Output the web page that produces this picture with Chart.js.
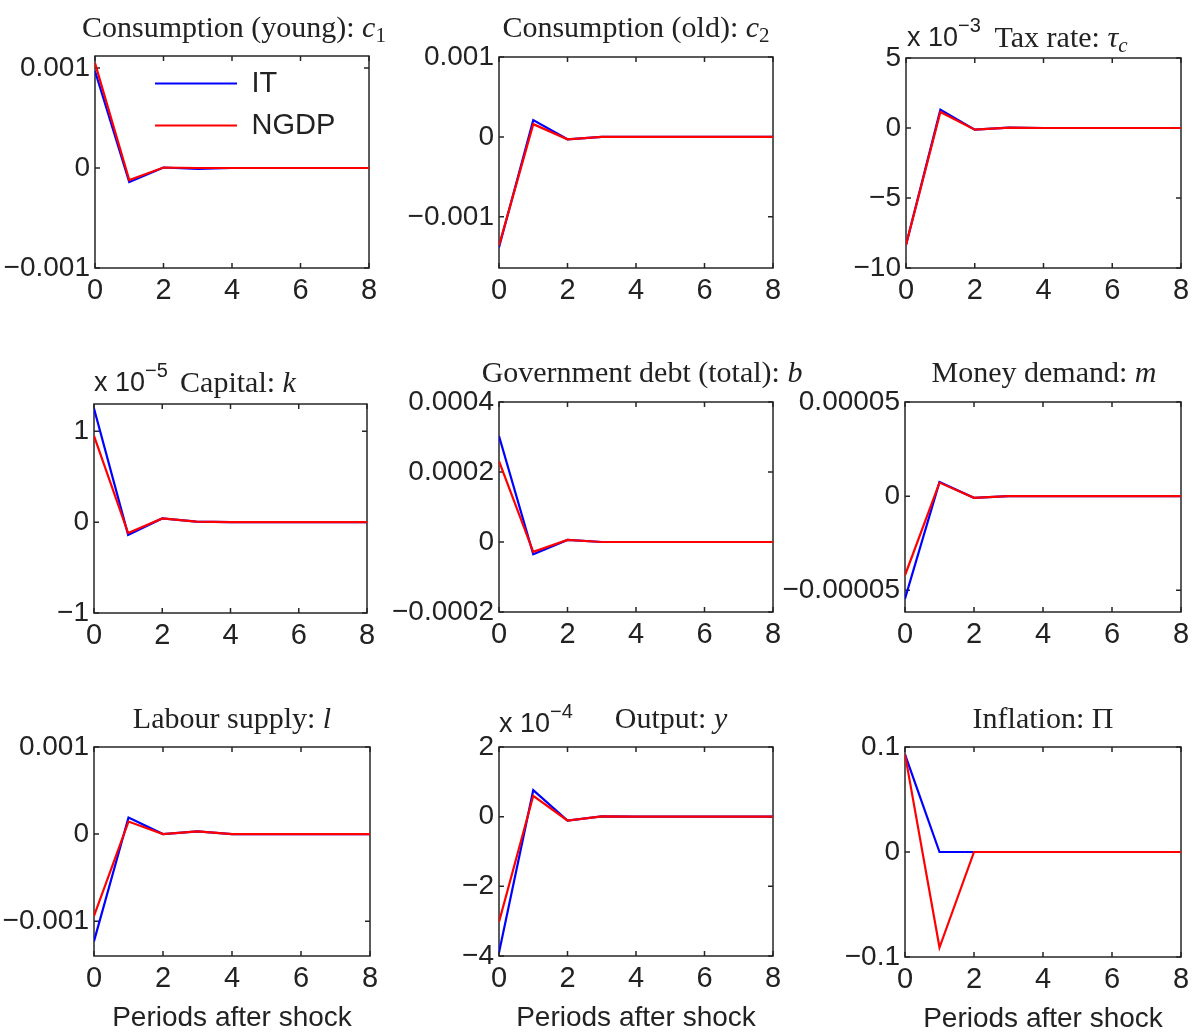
<!DOCTYPE html>
<html>
<head>
<meta charset="utf-8">
<script src="https://cdn.jsdelivr.net/npm/chart.js@4.4.1/dist/chart.umd.min.js"></script>
<style>
  body { margin: 0; background: #fff; width: 1196px; height: 1033px; position: relative; overflow: hidden; }
  canvas { position: absolute; }
  .ttl { position: absolute; z-index: 2; white-space: nowrap; transform: translateX(-50%);
         font: 30px/30px "Liberation Serif", "Times New Roman", serif; color: #222; }
  .ttl .sb { font-size: 21px; line-height: 0; position: relative; top: 5px; }
  .exp { position: absolute; z-index: 2; white-space: nowrap;
         font: 27px/27px "Liberation Sans", Arial, sans-serif; color: #222; }
  .exp .sp { font-size: 20px; line-height: 0; position: relative; top: -14px; }
</style>
</head>
<body>
<script>
// impulse responses, periods after shock
var periods = [0, 1, 2, 3, 4, 5, 6, 7, 8];
var xTicks = [0, 2, 4, 6, 8];
var xLabels = ['0', '2', '4', '6', '8'];
var seriesNames = ['IT', 'NGDP'];

// Consumption (young): c1
var c1IT   = [0.00097, -0.00014, 0.000005, -0.00001, 0, 0, 0, 0, 0];
var c1NGDP = [0.00105, -0.00012, 0.000005, 0, 0, 0, 0, 0, 0];
var c1Range = [-0.001, 0.00112];
var c1Ticks = [-0.001, 0, 0.001];
var c1Labels = ['\u22120.001', '0', '0.001'];

// Consumption (old): c2
var c2IT   = [-0.00138, 0.00021, -0.00003, 0, 0, 0, 0, 0, 0];
var c2NGDP = [-0.00136, 0.00016, -0.00003, 0, 0, 0, 0, 0, 0];
var c2Range = [-0.00164, 0.001];
var c2Ticks = [-0.001, 0, 0.001];
var c2Labels = ['\u22120.001', '0', '0.001'];

// Tax rate: tau_c  (x 10^-3)
var tauIT   = [-8.35, 1.3, -0.12, 0.02, 0, 0, 0, 0, 0];
var tauNGDP = [-8.35, 1.15, -0.12, 0.02, 0, 0, 0, 0, 0];
var tauRange = [-10, 5];
var tauTicks = [-10, -5, 0, 5];
var tauLabels = ['\u221210', '\u22125', '0', '5'];

// Capital: k  (x 10^-5)
var kIT   = [1.25, -0.14, 0.04, 0.005, 0, 0, 0, 0, 0];
var kNGDP = [0.95, -0.12, 0.04, 0.005, 0, 0, 0, 0, 0];
var kRange = [-1, 1.3];
var kTicks = [-1, 0, 1];
var kLabels = ['\u22121', '0', '1'];

// Government debt (total): b
var bIT   = [0.000303, -0.000035, 0.000006, 0, 0, 0, 0, 0, 0];
var bNGDP = [0.000231, -0.000028, 0.000006, 0, 0, 0, 0, 0, 0];
var bRange = [-0.0002, 0.0004];
var bTicks = [-0.0002, 0, 0.0002, 0.0004];
var bLabels = ['\u22120.0002', '0', '0.0002', '0.0004'];

// Money demand: m
var mIT   = [-0.0000544, 0.0000075, -0.0000009, 0, 0, 0, 0, 0, 0];
var mNGDP = [-0.000042, 0.0000072, -0.0000009, 0, 0, 0, 0, 0, 0];
var mRange = [-0.0000615, 0.00005];
var mTicks = [-0.00005, 0, 0.00005];
var mLabels = ['\u22120.00005', '0', '0.00005'];

// Labour supply: l
var lIT   = [-0.00123, 0.00019, 0, 0.00003, 0, 0, 0, 0, 0];
var lNGDP = [-0.00094, 0.000144, 0, 0.00003, 0, 0, 0, 0, 0];
var lRange = [-0.0014, 0.001];
var lTicks = [-0.001, 0, 0.001];
var lLabels = ['\u22120.001', '0', '0.001'];

// Output: y  (x 10^-4)
var yIT   = [-3.9, 0.76, -0.11, 0.01, 0, 0, 0, 0, 0];
var yNGDP = [-3.02, 0.6, -0.11, 0.01, 0, 0, 0, 0, 0];
var yRange = [-4, 2];
var yTicks = [-4, -2, 0, 2];
var yLabels = ['\u22124', '\u22122', '0', '2'];

// Inflation: Pi
var piIT   = [0.093, 0, 0, 0, 0, 0, 0, 0, 0];
var piNGDP = [0.093, -0.091, 0, 0, 0, 0, 0, 0, 0];
var piRange = [-0.1, 0.1];
var piTicks = [-0.1, 0, 0.1];
var piLabels = ['\u22120.1', '0', '0.1'];

var FONT = "'Liberation Sans', Arial, sans-serif";
Chart.defaults.font.family = FONT;
Chart.defaults.color = '#222';

// plot box = [left, top, right, bottom] in page pixels
var panels = [
  { it: c1IT, ng: c1NGDP, range: c1Range, ticks: c1Ticks, labels: c1Labels, box: [95, 56, 369, 268], legend: true,
    title: 'Consumption (young): <i>c</i><span class="sb">1</span>', tx: 234, tb: 37 },
  { it: c2IT, ng: c2NGDP, range: c2Range, ticks: c2Ticks, labels: c2Labels, box: [499, 57, 773, 268],
    title: 'Consumption (old): <i>c</i><span class="sb">2</span>', tx: 636, tb: 37 },
  { it: tauIT, ng: tauNGDP, range: tauRange, ticks: tauTicks, labels: tauLabels, box: [906, 58, 1181, 268],
    title: 'Tax rate: <i>\u03c4</i><span class="sb"><i>c</i></span>', tx: 1061, tb: 47, exp: '\u22123', ex: 907, eb: 47 },
  { it: kIT, ng: kNGDP, range: kRange, ticks: kTicks, labels: kLabels, box: [94, 404, 367, 613],
    title: 'Capital: <i>k</i>', tx: 238, tb: 392, exp: '\u22125', ex: 94, eb: 392 },
  { it: bIT, ng: bNGDP, range: bRange, ticks: bTicks, labels: bLabels, box: [499, 402, 773, 612],
    title: 'Government debt (total): <i>b</i>', tx: 642, tb: 382 },
  { it: mIT, ng: mNGDP, range: mRange, ticks: mTicks, labels: mLabels, box: [905, 402, 1181, 612],
    title: 'Money demand: <i>m</i>', tx: 1044, tb: 382 },
  { it: lIT, ng: lNGDP, range: lRange, ticks: lTicks, labels: lLabels, box: [94, 747, 370, 956], xTitle: true,
    title: 'Labour supply: <i>l</i>', tx: 232, tb: 728 },
  { it: yIT, ng: yNGDP, range: yRange, ticks: yTicks, labels: yLabels, box: [499, 747, 773, 956], xTitle: true,
    title: 'Output: <i>y</i>', tx: 671, tb: 728, exp: '\u22124', ex: 499, eb: 733 },
  { it: piIT, ng: piNGDP, range: piRange, ticks: piTicks, labels: piLabels, box: [905, 747, 1181, 957], xTitle: true,
    title: 'Inflation: \u03a0', tx: 1043, tb: 728 }
];

// MATLAB style frame with inward ticks
var framePlugin = {
  id: 'frame',
  beforeDatasetsDraw: function (chart) {
    var a = chart.chartArea, ctx = chart.ctx, len = 5;
    var sx = chart.scales.x, sy = chart.scales.y;
    ctx.save();
    ctx.strokeStyle = '#262626';
    ctx.lineWidth = 1.5;
    ctx.strokeRect(a.left, a.top, a.right - a.left, a.bottom - a.top);
    ctx.beginPath();
    sx.ticks.forEach(function (t) {
      var px = sx.getPixelForValue(t.value);
      ctx.moveTo(px, a.bottom); ctx.lineTo(px, a.bottom - len);
      ctx.moveTo(px, a.top); ctx.lineTo(px, a.top + len);
    });
    sy.ticks.forEach(function (t) {
      var py = sy.getPixelForValue(t.value);
      ctx.moveTo(a.left, py); ctx.lineTo(a.left + len, py);
      ctx.moveTo(a.right, py); ctx.lineTo(a.right - len, py);
    });
    ctx.stroke();
    ctx.restore();
  }
};

// put the legend inside the axes, offset from the top-left corner
var legendShift = {
  id: 'legendShift',
  afterLayout: function (chart) {
    var lg = chart.legend, a = chart.chartArea;
    if (lg && chart.options.plugins.legend.display) {
      var h = lg.bottom - lg.top, w = lg.right - lg.left;
      lg.left = a.left + 47;
      lg.top = a.top;
      lg.right = lg.left + w;
      lg.bottom = lg.top + h;
    }
  }
};

function points(vals) {
  return vals.map(function (v, i) { return { x: periods[i], y: v }; });
}

panels.forEach(function (p) {
  var axisW = 130, padTop = 30, padRight = 22;
  var xH = p.xTitle ? 76 : 44;
  var plotW = p.box[2] - p.box[0], plotH = p.box[3] - p.box[1];
  var cv = document.createElement('canvas');
  cv.width = axisW + plotW + padRight;
  cv.height = padTop + plotH + xH;
  cv.style.left = (p.box[0] - axisW) + 'px';
  cv.style.top = (p.box[1] - padTop) + 'px';
  document.body.appendChild(cv);

  new Chart(cv.getContext('2d'), {
    type: 'line',
    data: {
      datasets: [{
        label: seriesNames[0],
        data: points(p.it),
        borderColor: '#0000ff',
        borderWidth: 2.2,
        pointRadius: 0,
        order: 1
      }, {
        label: seriesNames[1],
        data: points(p.ng),
        borderColor: '#ff0000',
        borderWidth: 2.2,
        pointRadius: 0,
        order: 0
      }]
    },
    options: {
      responsive: false,
      animation: false,
      layout: { padding: { top: padTop, right: padRight, left: 0, bottom: 0 } },
      scales: {
        x: {
          type: 'linear',
          min: 0,
          max: 8,
          grid: { display: false, drawTicks: false },
          border: { display: false },
          afterBuildTicks: function (s) { s.ticks = xTicks.map(function (v) { return { value: v }; }); },
          afterFit: function (s) { s.height = xH; },
          ticks: {
            autoSkip: false,
            maxRotation: 0,
            padding: 8,
            font: { size: 29, lineHeight: 1 },
            callback: function (v, i) { return xLabels[i]; }
          },
          title: {
            display: !!p.xTitle,
            text: 'Periods after shock',
            font: { size: 28, lineHeight: 1 },
            padding: { top: 0, bottom: 0 }
          }
        },
        y: {
          min: p.range[0],
          max: p.range[1],
          grid: { display: false, drawTicks: false },
          border: { display: false },
          afterBuildTicks: function (s) { s.ticks = p.ticks.map(function (v) { return { value: v }; }); },
          afterFit: function (s) { s.width = axisW; },
          ticks: {
            autoSkip: false,
            padding: 5,
            font: { size: 28, lineHeight: 1 },
            callback: function (v, i) { return p.labels[i]; }
          }
        }
      },
      plugins: {
        tooltip: { enabled: false },
        legend: {
          display: !!p.legend,
          position: 'chartArea',
          align: 'start',
          labels: {
            usePointStyle: true,
            pointStyle: 'line',
            pointStyleWidth: 82,
            boxHeight: 29,
            padding: 13,
            color: '#222',
            font: { size: 29 },
            sort: function (a, b) { return a.datasetIndex - b.datasetIndex; }
          }
        }
      }
    },
    plugins: [framePlugin, legendShift]
  });

  var t = document.createElement('div');
  t.className = 'ttl';
  t.innerHTML = p.title;
  t.style.left = p.tx + 'px';
  t.style.top = (p.tb - 25) + 'px';
  document.body.appendChild(t);

  if (p.exp) {
    var e = document.createElement('div');
    e.className = 'exp';
    e.innerHTML = 'x 10<span class="sp">' + p.exp + '</span>';
    e.style.left = p.ex + 'px';
    e.style.top = (p.eb - 23) + 'px';
    document.body.appendChild(e);
  }
});
</script>
</body>
</html>
